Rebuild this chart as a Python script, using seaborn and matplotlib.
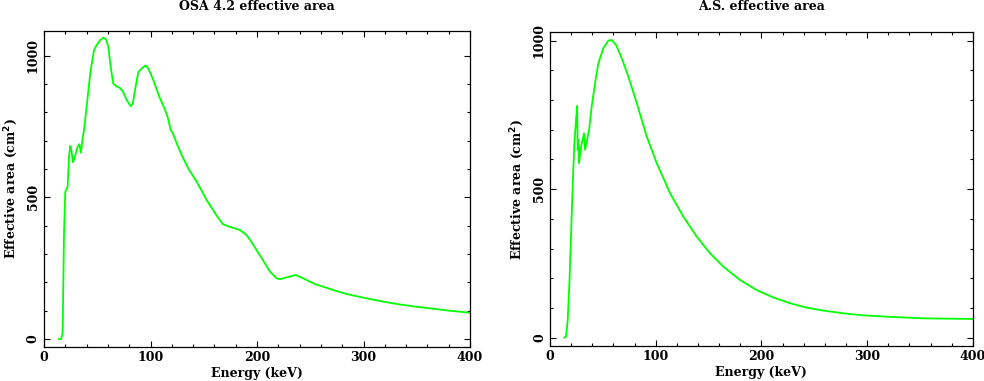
import matplotlib
matplotlib.use('Agg')
import matplotlib.pyplot as plt
import seaborn as sns
import pandas as pd
from matplotlib.ticker import MultipleLocator

# ── Data ──────────────────────────────────────────────────────────────────────
osa_energy = [13.5, 16, 17.5, 18.8, 20, 21.3, 22.2, 23.5, 24.7, 25.7, 27.2, 29,
              31.6, 33.2, 34.7, 36, 37.6, 40.7, 43.8, 47, 49.5, 52.6, 55.7,
              58.2, 60.4, 62.6, 65, 67.6, 70.7, 73.9, 77.6, 81.4, 83.3, 85.4,
              88.6, 91.7, 95.5, 98, 102.7, 108.3, 112.7, 116, 119, 120.8,
              124.6, 129.3, 135.5, 143.4, 152.7, 160.6, 167.8, 174.6, 184,
              190.3, 196.6, 204.4, 212.2, 218.5, 221.6, 227.9, 236.3, 243.5,
              254.5, 271.7, 284.2, 299.8, 318.6, 334.3, 349.9, 365.6, 381.2, 400]
osa_area = [0, 0, 20, 373, 520, 530, 538, 644, 682, 667, 624, 644,
            679, 688, 658, 702, 738, 844, 949, 1020, 1038, 1055, 1064,
            1058, 1032, 961, 902, 893, 888, 876, 844, 822, 831, 878,
            943, 955, 966, 955, 914, 855, 818, 785, 738, 728,
            691, 649, 602, 555, 491, 444, 406, 396, 385,
            367, 332, 285, 238, 214, 211, 218, 226, 214,
            194, 173, 159, 146, 132, 122, 114, 107, 100, 93]

as_energy = [13.2, 15.1, 16.7, 18.3, 19.9, 21.5, 23, 24.6, 25.6, 26.2, 26.8,
             27.4, 29.3, 31.5, 32.2, 33.1, 34.7, 36.9, 39.4, 42.6, 45.7, 50.5,
             55.2, 58.4, 62.5, 67.8, 74.1, 82, 91.5, 101, 113.6, 126.2, 138.8,
             151.4, 164, 179.8, 195.6, 211.4, 227.1, 242.9, 258.7, 277.6,
             296.5, 321.8, 353.3, 400]
as_area = [0, 3, 59, 183, 351, 520, 654, 733, 780, 632, 666,
           587, 643, 677, 688, 632, 660, 699, 778, 857, 924, 975,
           1000, 1002, 985, 941, 879, 790, 677, 587, 486, 407, 340,
           284, 239, 194, 160, 135, 116, 101, 91, 82,
           75, 70, 65, 63]

TITLES = ['OSA 4.2 effective area', 'A.S. effective area']
YLIMS = [(-27, 1088), (-27, 1028)]

# ── Style ─────────────────────────────────────────────────────────────────────
sns.set_style('ticks')
plt.rcParams['font.family'] = ['DejaVu Serif']
plt.rcParams['font.weight'] = 'bold'
plt.rcParams['font.size'] = 9
plt.rcParams['text.color'] = 'black'
plt.rcParams['axes.labelcolor'] = 'black'

fig = plt.figure(figsize=(9.84, 3.81), dpi=100)
axes = [fig.add_axes([0.0447, 0.090, 0.433, 0.829]),
        fig.add_axes([0.559, 0.0927, 0.4296, 0.8226])]

frames = [pd.DataFrame({'energy': osa_energy, 'area': osa_area}),
          pd.DataFrame({'energy': as_energy, 'area': as_area})]

for ax, df, title, ylim in zip(axes, frames, TITLES, YLIMS):
    sns.lineplot(data=df, x='energy', y='area', ax=ax, color='#00ff00',
                 linewidth=1.3, sort=False)
    ax.set_xlim(0, 400)
    ax.set_ylim(*ylim)
    ax.xaxis.set_major_locator(MultipleLocator(100))
    ax.xaxis.set_minor_locator(MultipleLocator(20))
    ax.yaxis.set_major_locator(MultipleLocator(500))
    ax.yaxis.set_minor_locator(MultipleLocator(100))
    ax.tick_params(which='both', direction='in', top=True, right=True,
                   colors='black', width=0.8)
    ax.tick_params(which='major', length=4.5, pad=3)
    ax.tick_params(which='minor', length=2.5)
    for lab in ax.get_yticklabels():
        lab.set_rotation(90)
        lab.set_va('center')
    for sp in ax.spines.values():
        sp.set_linewidth(0.9)
        sp.set_color('black')
        sp.set_visible(True)
    ax.set_xlabel('Energy (keV)', fontweight='bold', labelpad=2)
    ax.set_ylabel('Effective area (cm$^\\mathbf{2}$)', fontweight='bold',
                  labelpad=5)
    pos = ax.get_position()
    fig.text((pos.x0 + pos.x1) / 2, 0.982, title, ha='center', va='center',
             fontweight='bold', fontsize=9)

fig.savefig('out.png', dpi=100)
